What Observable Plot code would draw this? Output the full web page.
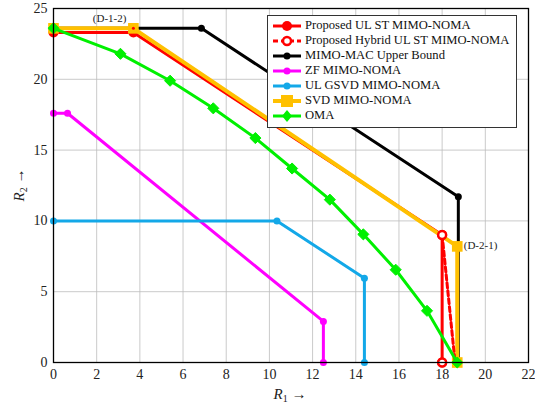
<!DOCTYPE html>
<html><head><meta charset="utf-8">
<script src="https://cdn.jsdelivr.net/npm/d3@7"></script>
<script src="https://cdn.jsdelivr.net/npm/@observablehq/plot@0.6"></script>
<style>
body{margin:0;background:#fff;}
#wrap{position:relative;width:535px;height:408px;font-family:"Liberation Serif",serif;}
#wrap svg text{font-family:"Liberation Serif",serif !important;}
#legend{position:absolute;left:267px;top:15px;width:250px;height:113px;border:1px solid #333;background:#fff;box-sizing:border-box;padding-top:2px;}
.row{display:flex;align-items:center;height:15px;font-size:12.6px;color:#111;white-space:nowrap;}
.row svg{margin-left:5px;margin-right:4px;flex:none;}
</style></head>
<body><div id="wrap"><div id="legend"></div></div>
<script>
// ---- data ----
const xTicks = [0,2,4,6,8,10,12,14,16,18,20,22];
const yTicks = [0,5,10,15,20,25];
const proposedR1 = [0, 3.7, 18.0, 18.0];
const proposedR2 = [23.3, 23.3, 9.0, 0];
const hybridR1 = [3.7, 18.0, 18.6];
const hybridR2 = [23.6, 9.0, 0];
const macR1 = [0, 6.85, 18.75, 18.75];
const macR2 = [23.6, 23.6, 11.7, 0];
const zfR1 = [0, 0.65, 12.5, 12.5];
const zfR2 = [17.6, 17.6, 2.9, 0];
const gsvdR1 = [0, 10.35, 14.4, 14.4];
const gsvdR2 = [10.0, 10.0, 5.95, 0];
const svdR1 = [0, 3.7, 18.7, 18.7];
const svdR2 = [23.6, 23.6, 8.2, 0];
const omaR1 = [0, 3.1, 5.4, 7.4, 9.35, 11.05, 12.8, 14.35, 15.85, 17.3, 18.7];
const omaR2 = [23.6, 21.8, 19.9, 17.95, 15.85, 13.7, 11.5, 9.05, 6.55, 3.65, 0];
const seriesNames = ["Proposed UL ST MIMO-NOMA","Proposed Hybrid UL ST MIMO-NOMA","MIMO-MAC Upper Bound","ZF MIMO-NOMA","UL GSVD MIMO-NOMA","SVD MIMO-NOMA","OMA"];
const seriesColors = ["#ff0000","#ff0000","#000000","#ff00ff","#13a8e8","#ffc000","#00f000"];
const annoLeft = [{x:2.6, y:24.3, t:"(D-1-2)"}];
const annoRight = [{x:19.0, y:8.3, t:"(D-2-1)"}];

const pts = (xs, ys) => xs.map((x,i)=>({x, y:ys[i]}));
const P = pts(proposedR1, proposedR2), H = pts(hybridR1, hybridR2), M = pts(macR1, macR2),
      Z = pts(zfR1, zfR2), G = pts(gsvdR1, gsvdR2), S = pts(svdR1, svdR2), O = pts(omaR1, omaR2);
const C = seriesColors;

const chart = Plot.plot({
  width:535, height:408,
  marginLeft:53, marginRight:7, marginTop:8, marginBottom:46,
  style:{fontFamily:"Liberation Serif, serif", fontSize:"14px", background:"#fff", color:"#222"},
  x:{domain:[0,22], ticks:xTicks, label:null},
  y:{domain:[0,25], ticks:yTicks, label:null},
  marks:[
    Plot.gridX(xTicks, {stroke:"#bdbdbd", strokeOpacity:1, strokeWidth:0.8}),
    Plot.gridY(yTicks, {stroke:"#bdbdbd", strokeOpacity:1, strokeWidth:0.8}),
    Plot.axisX({ticks:xTicks, tickSize:0, tickPadding:7, fontSize:14, tickFormat:d=>d}),
    Plot.axisY({ticks:yTicks, tickSize:0, tickPadding:6, fontSize:14, tickFormat:d=>d}),
    // MIMO-MAC
    Plot.line(M, {x:"x", y:"y", stroke:C[2], strokeWidth:3}),
    Plot.dot(M, {x:"x", y:"y", r:3.5, fill:C[2]}),
    // ZF
    Plot.line(Z, {x:"x", y:"y", stroke:C[3], strokeWidth:3}),
    Plot.dot(Z, {x:"x", y:"y", r:3.5, fill:C[3]}),
    // GSVD
    Plot.line(G, {x:"x", y:"y", stroke:C[4], strokeWidth:3}),
    Plot.dot(G, {x:"x", y:"y", r:3.5, fill:C[4]}),
    // Proposed
    Plot.line(P, {x:"x", y:"y", stroke:C[0], strokeWidth:3}),
    Plot.dot(P, {x:"x", y:"y", r:5, fill:C[0]}),
    // SVD
    Plot.line(S, {x:"x", y:"y", stroke:C[5], strokeWidth:4}),
    Plot.dot(S, {x:"x", y:"y", r:6, symbol:"square", fill:C[5]}),
    // Hybrid (dashed segment visible between red and yellow)
    Plot.line(H.slice(1), {x:"x", y:"y", stroke:C[1], strokeWidth:3, strokeDasharray:"5,3"}),
    Plot.dot(H.slice(1,2), {x:"x", y:"y", r:4, fill:"#fff", stroke:C[1], strokeWidth:2.5}),
    Plot.dot(H.slice(0,1), {x:"x", y:"y", r:1.5, fill:C[1]}),
    Plot.dot(P.slice(3), {x:"x", y:"y", r:4, fill:"#fff", stroke:C[0], strokeWidth:2.5}),
    // OMA
    Plot.line(O, {x:"x", y:"y", stroke:C[6], strokeWidth:3}),
    Plot.dot(O, {x:"x", y:"y", r:5, symbol:"diamond2", fill:C[6], stroke:C[6], strokeWidth:1}),
    Plot.text(annoLeft, {x:"x", y:"y", text:"t", textAnchor:"middle", fontSize:11, fill:"#222"}),
    Plot.text(annoRight, {x:"x", y:"y", text:"t", textAnchor:"start", fontSize:11, fill:"#222"}),
    Plot.frame({stroke:"#000", strokeWidth:1.3})
  ]
});
document.getElementById("wrap").prepend(chart);

// axis labels with subscripts
const svg = d3.select(chart);
const xl = svg.append("text").attr("x", 290).attr("y", 399).attr("text-anchor","middle")
  .attr("font-size",15).attr("fill","#222");
xl.append("tspan").attr("font-style","italic").text("R");
xl.append("tspan").attr("font-size",10).attr("dy",3).text("1");
xl.append("tspan").attr("dy",-3).text(" \u2192");
const yl = svg.append("text").attr("transform","translate(24,185) rotate(-90)").attr("text-anchor","middle")
  .attr("font-size",15).attr("fill","#222");
yl.append("tspan").attr("font-style","italic").text("R");
yl.append("tspan").attr("font-size",10).attr("dy",3).text("2");
yl.append("tspan").attr("dy",-3).text(" \u2192");

// legend
const markers = [
  `<circle cx="14" cy="6" r="5" fill="${C[0]}"/>`,
  `<circle cx="14" cy="6" r="4" fill="#fff" stroke="${C[1]}" stroke-width="2.5"/>`,
  `<circle cx="14" cy="6" r="3.5" fill="${C[2]}"/>`,
  `<circle cx="14" cy="6" r="3.5" fill="${C[3]}"/>`,
  `<circle cx="14" cy="6" r="3.5" fill="${C[4]}"/>`,
  `<rect x="8" y="0" width="12" height="12" fill="${C[5]}"/>`,
  `<path d="M14,0 L19,6 L14,12 L9,6Z" fill="${C[6]}"/>`
];
const leg = document.getElementById("legend");
seriesNames.forEach((name,i)=>{
  const dash = i===1 ? 'stroke-dasharray="5,3"' : '';
  const sw = i===5 ? 4 : 3;
  leg.insertAdjacentHTML("beforeend",
    `<div class="row"><svg width="28" height="12"><line x1="0" y1="6" x2="28" y2="6" stroke="${C[i]}" stroke-width="${sw}" ${dash}/>${markers[i]}</svg><span>${name}</span></div>`);
});
</script></body></html>
